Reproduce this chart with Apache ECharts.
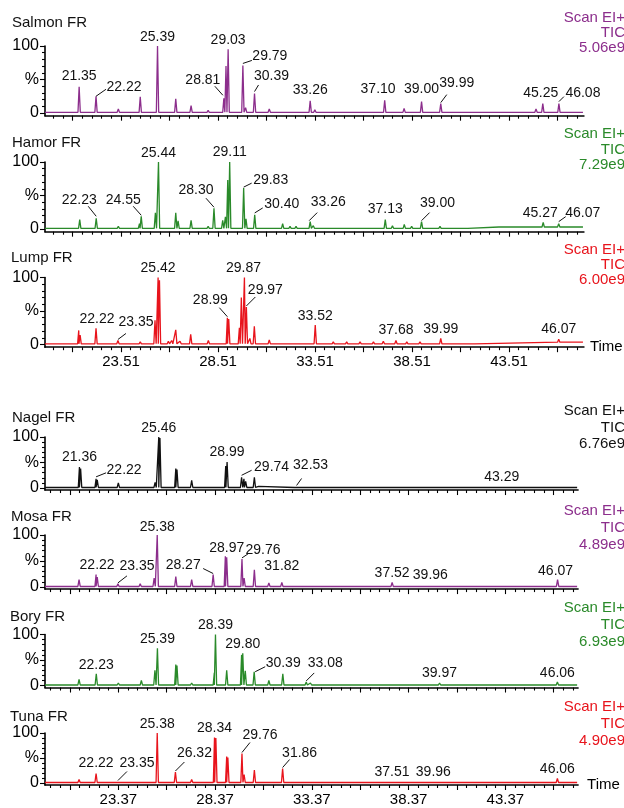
<!DOCTYPE html>
<html><head><meta charset="utf-8">
<script src="https://cdn.jsdelivr.net/npm/echarts@6/dist/echarts.min.js"></script>
<style>html,body{margin:0;padding:0;background:#fff}#c{width:624px;height:808px}</style>
</head><body><div id="c"></div>
<script>
// ---------- values ----------
const samples = ['Salmon FR','Hamor FR','Lump FR','Nagel FR','Mosa FR','Bory FR','Tuna FR'];
const ticScales = ['5.06e9','7.29e9','6.00e9','6.76e9','4.89e9','6.93e9','4.90e9'];
const topMajorTicks = [21.01,23.51,26.01,28.51,31.01,33.51,36.01,38.51,41.01,43.51,46.01];
const topTickLabels = [23.51,28.51,33.51,38.51,43.51];
const bottomMajorTicks = [20.87,23.37,25.87,28.37,30.87,33.37,35.87,38.37,40.87,43.37,45.87];
const bottomTickLabels = [23.37,28.37,33.37,38.37,43.37];
const yTickValues = [0,50,100];
const yTickLabels = ['0','%','100'];
const yMinorValues = [10,20,30,40,60,70,80,90];

const salmonPeaks = [[20.02,3],[21.35,39],[22.22,25],[23.37,6],[24.50,24],[25.39,100],[26.33,21],[27.12,11],[28.00,4],[28.81,22],[28.92,70],[29.03,95],[29.79,71],[29.93,8],[30.39,29],[31.15,6],[33.26,18],[33.50,5],[34.45,3],[34.80,3],[37.10,19],[37.46,3],[38.10,7],[39.00,17],[39.99,14],[43.05,3],[44.90,6],[45.25,14],[46.08,14]];
const salmonLabels = ['21.35','22.22','25.39','28.81','29.03','29.79','30.39','33.26','37.10','39.00','39.99','45.25','46.08'];
const salmonBaseline = [[19.5,1]];

const hamorPeaks = [[20.02,3],[21.38,14],[21.72,2],[22.23,16],[23.37,4],[24.46,8],[24.55,19],[25.28,24],[25.44,100],[26.33,24],[26.45,12],[27.12,13],[28.00,4],[28.30,31],[28.75,13],[28.89,18],[29.01,73],[29.11,100],[29.83,61],[29.95,15],[30.40,21],[31.15,3],[31.84,8],[32.22,4],[32.53,4],[33.26,11],[33.42,5],[33.80,3],[35.23,2],[36.26,2],[37.13,14],[37.50,5],[37.80,3],[38.11,7],[38.49,4],[39.00,11],[39.35,3],[39.95,4],[43.05,3],[45.27,10],[46.07,8]];
const hamorLabels = ['22.23','24.55','25.44','28.30','29.11','29.83','30.40','33.26','37.13','39.00','45.27','46.07'];
const hamorBaseline = [[19.5,1],[41.40,3]];

const lumpPeaks = [[20.02,2],[21.33,21],[21.40,14],[22.22,24],[23.35,6],[24.50,4],[25.26,36],[25.42,100],[25.49,96],[25.95,5],[26.12,6],[26.33,22],[26.55,5],[27.10,15],[28.01,6],[28.99,40],[29.06,38],[29.61,25],[29.71,70],[29.87,100],[29.97,56],[30.15,9],[30.38,27],[31.15,7],[33.52,29],[34.45,4],[35.14,4],[35.83,4],[36.52,4],[37.03,5],[37.68,6],[38.24,4],[38.92,4],[39.99,9],[46.07,8]];
const lumpLabels = ['22.22','23.35','25.42','28.99','29.87','29.97','33.52','37.68','39.99','46.07'];
const lumpBaseline = [[19.5,1],[41.75,3.5]];

const nagelPeaks = [[21.36,41],[21.42,38],[22.22,18],[22.28,16],[22.42,3],[23.37,10],[25.27,11],[25.46,100],[25.52,98],[26.34,38],[26.40,36],[27.16,15],[28.92,43],[28.99,51],[29.74,21],[29.86,18],[29.95,13],[30.40,21],[30.62,3],[32.53,3],[43.29,3]];
const nagelLabels = ['21.36','22.22','25.46','28.99','29.74','32.53','43.29'];
const nagelBaseline = [[19.5,1]];

const mosaPeaks = [[21.34,14],[22.22,24],[22.28,19],[23.35,6],[24.50,6],[25.22,17],[25.38,100],[26.34,20],[27.16,14],[28.00,4],[28.27,24],[28.90,59],[28.97,57],[29.76,54],[29.87,17],[30.40,33],[31.15,8],[31.82,9],[32.22,4],[32.55,4],[33.00,4],[33.30,4],[33.70,4],[34.10,3],[34.60,3],[36.00,3],[36.60,4],[37.10,4],[37.52,9],[38.00,3],[38.60,3],[39.10,4],[39.50,4],[39.96,4],[40.30,3],[42.40,3],[43.00,4],[43.50,3],[44.60,3],[45.30,4],[46.07,14],[46.50,3]];
const mosaLabels = ['22.22','23.35','25.38','28.27','28.97','29.76','31.82','37.52','39.96','46.07'];
const mosaBaseline = [[19.5,1]];

const boryPeaks = [[21.34,12],[22.23,23],[23.37,5],[24.56,10],[25.26,30],[25.39,73],[26.34,41],[26.40,39],[27.16,5],[28.33,25],[28.39,100],[28.97,30],[29.74,60],[29.80,63],[29.93,29],[30.39,27],[31.15,10],[31.87,23],[32.25,4],[32.55,4],[33.08,7],[33.30,5],[33.55,4],[35.70,3],[36.50,4],[37.00,4],[37.60,3],[38.20,4],[39.97,5],[43.00,4],[43.40,4],[44.80,4],[45.40,4],[46.06,7],[46.40,3]];
const boryLabels = ['22.23','25.39','28.39','29.80','30.39','33.08','39.97','46.06'];
const boryBaseline = [[19.5,1]];

const tunaPeaks = [[21.34,7],[22.22,19],[23.35,3],[24.50,2],[25.38,100],[26.32,22],[27.16,7],[28.34,91],[28.41,90],[28.97,53],[29.03,51],[29.76,59],[29.87,17],[30.40,26],[31.15,2],[31.86,29],[34.50,2],[36.00,2],[37.51,3],[39.96,3],[42.00,2],[43.50,2],[45.00,2],[46.06,9]];
const tunaLabels = ['22.22','23.35','25.38','26.32','28.34','29.76','31.86','37.51','39.96','46.06'];
const tunaBaseline = [[19.5,1]];

// ---------- label layout (pixel offsets from peak top: [dx,dy, leader x1,y1,x2,y2]) ----------
const salmonLayout = [[0,-11],[28,-9,0,0,10,-7],[0,-9],[-21,-18,-1,-3,-9,-12],[0,-9.5],[27,-9,0,-2,9,-5],[17,-17.6,0,-2,4,-8.6],[0,-11],[-6.6,-11],[0,-12.6],[16,-20.6,0,-1,6,-9],[-2,-10.6],[24,-10.6,0,-2,5,-7]];
const hamorLayout = [[-17,-18,0,-2,-8,-12],[-18,-16,0,-1,-8,-10],[0,-9],[-18,-18,0,-1,-8,-10],[0,-10],[27,-8,0,-1,8,-5],[27,-11,0,-2,8,-7],[18,-19.6,-1,-1,7,-9],[0,-10.6],[16,-18.6,0,-1,8,-9],[-3,-9.3],[24,-10.6,0,-2,7,-7]];
const lumpLayout = [[1,-9],[18,-18.5,0,-1,8,-7],[0,-9.5],[-17,-17.7,0,-1,-8,-10],[-1,-9.5],[19,-17,0,-1,9,-10],[0,-9],[0,-10.5],[0,-9.5],[0,-10]];
const nagelLayout = [[0,-10],[28,-9,0,-2,10,-6],[0,-9],[0,-10],[30,-10,0,-2,10,-7],[15,-21,1,-1,6,-8],[-2,-9]];
const mosaLayout = [[1,-9],[19,-18,0,-1,9,-8],[0,-8],[-30,-9,0,-1,-10,-6],[0,-9],[21,-8.5,0,-1,6,-5],[0,-16],[0,-9.5],[-9,-10],[-2,-9]];
const boryLayout = [[0,-9],[0,-9],[0,-9.5],[0,-9.5],[29,-9,1,0,11,-5],[19,-19,0,-1,8,-9],[0,-10],[0,-9]];
const tunaLayout = [[0,-10],[19,-18.5,0,-1,9,-10],[0,-9],[19,-19,0,-1,9,-10],[0,-9],[18,-18,0,-1,8,-11],[17,-15,0,-1,7,-9],[0,-9.5],[-6,-9.5],[0,-9]];

// ---------- styling ----------
const PURPLE = '#8c2e8c', GREEN = '#2a8a2a', RED = '#e8141c', BLACK = '#111111';
const FONT = '"Liberation Sans", Arial, sans-serif';
const HW = 0.06;

const topGroup = {xmin:19.59, xmax:47.37, ppm:19.4, majors:topMajorTicks, labels:topTickLabels, nameGap:6};
const bottomGroup = {xmin:19.58, xmax:47.13, ppm:19.35, majors:bottomMajorTicks, labels:bottomTickLabels, nameGap:9};

const panels = [
  {peaks:salmonPeaks, labels:salmonLabels, layout:salmonLayout, base:salmonBaseline, color:PURPLE, g:topGroup, top:46, h:67, axisLabels:false, titleY:23, titleX:12, rightTop:10.5, lh:15},
  {peaks:hamorPeaks, labels:hamorLabels, layout:hamorLayout, base:hamorBaseline, color:GREEN, g:topGroup, top:162, h:67, axisLabels:false, titleY:143, titleX:12, rightTop:126.5, lh:15.5},
  {peaks:lumpPeaks, labels:lumpLabels, layout:lumpLayout, base:lumpBaseline, color:RED, g:topGroup, top:277.5, h:67, axisLabels:true, titleY:258, titleX:11, rightTop:242.5, lh:15},
  {peaks:nagelPeaks, labels:nagelLabels, layout:nagelLayout, base:nagelBaseline, color:BLACK, g:bottomGroup, top:437, h:51, axisLabels:false, titleY:418, titleX:12, rightTop:403, lh:16.5},
  {peaks:mosaPeaks, labels:mosaLabels, layout:mosaLayout, base:mosaBaseline, color:PURPLE, g:bottomGroup, top:535, h:52, axisLabels:false, titleY:517, titleX:11, rightTop:502, lh:17},
  {peaks:boryPeaks, labels:boryLabels, layout:boryLayout, base:boryBaseline, color:GREEN, g:bottomGroup, top:634.5, h:51, axisLabels:false, titleY:617, titleX:10, rightTop:599, lh:17},
  {peaks:tunaPeaks, labels:tunaLabels, layout:tunaLayout, base:tunaBaseline, color:RED, g:bottomGroup, top:733, h:50, axisLabels:true, titleY:717, titleX:10, rightTop:698, lh:17}
];

function minorTicks(majors, xmin, xmax) {
  const out = [];
  const start = majors[0] - 2.5;
  for (let i = 0; ; i++) {
    const v = +(start + i * 0.5).toFixed(2);
    if (v > xmax) break;
    if (i % 5 === 0 || v < xmin) continue;
    out.push(v);
  }
  return out;
}

function buildTrace(peaks, steps, xmin, xmax) {
  const baseAt = t => { let b = steps[0][1]; for (const s of steps) if (t >= s[0]) b = s[1]; return b; };
  const pts = [[xmin, baseAt(xmin)], [xmax - 0.05, baseAt(xmax)]];
  for (let k = 1; k < steps.length; k++) {
    pts.push([steps[k][0] - 0.01, steps[k-1][1]], [steps[k][0], steps[k][1]]);
  }
  peaks.forEach(([t, h]) => { const b = baseAt(t); pts.push([t - HW, b], [t, h], [t + HW, b]); });
  pts.sort((a, b) => a[0] - b[0]);
  return pts;
}

const grids = [], xAxes = [], yAxes = [], series = [], graphic = [];
panels.forEach((P, i) => {
  const G = P.g;
  const width = (G.xmax - G.xmin) * G.ppm;
  grids.push({left:45, top:P.top, width:width, height:P.h * 1.04});
  const tickStyle = {color:'#000', width:1.1};
  xAxes.push({
    type:'value', gridIndex:i, min:G.xmin, max:G.xmax, position:'bottom',
    axisLine:{show:true, onZero:false, lineStyle:{color:'#000', width:1.6}},
    axisTick:{show:true, customValues:G.majors, length:5, lineStyle:tickStyle},
    axisLabel:{show:P.axisLabels, customValues:G.labels, formatter:v => v.toFixed(2), fontSize:15, color:'#000', fontFamily:FONT, margin:7},
    splitLine:{show:false},
    name:P.axisLabels ? 'Time' : '', nameLocation:'end', nameGap:G.nameGap,
    nameTextStyle:{fontSize:15, color:'#000', fontFamily:FONT, verticalAlign:'middle'}
  });
  xAxes.push({
    type:'value', gridIndex:i, min:G.xmin, max:G.xmax, position:'bottom',
    axisLine:{show:false, onZero:false},
    axisTick:{show:true, customValues:minorTicks(G.majors, G.xmin, G.xmax), length:3, lineStyle:tickStyle},
    axisLabel:{show:false}, splitLine:{show:false}
  });
  yAxes.push({
    type:'value', gridIndex:i, min:-4, max:100, position:'left',
    axisLine:{show:true, onZero:false, lineStyle:{color:'#000', width:1.6}},
    axisTick:{show:true, customValues:yTickValues, length:5, lineStyle:tickStyle},
    axisLabel:{show:true, customValues:yTickValues, formatter:v => yTickLabels[yTickValues.indexOf(v)], fontSize:16, color:'#000', fontFamily:FONT, margin:6},
    splitLine:{show:false}
  });
  yAxes.push({
    type:'value', gridIndex:i, min:-4, max:100, position:'left',
    axisLine:{show:false, onZero:false},
    axisTick:{show:true, customValues:yMinorValues, length:3, lineStyle:tickStyle},
    axisLabel:{show:false}, splitLine:{show:false}
  });
  series.push({
    type:'line', xAxisIndex:2*i, yAxisIndex:2*i, data:buildTrace(P.peaks, P.base, G.xmin, G.xmax),
    showSymbol:false, symbol:'none', clip:false, lineStyle:{color:P.color, width:1.3}, silent:true, z:3
  });
  const labelData = P.labels.map((s, k) => {
    const t = parseFloat(s);
    const pk = P.peaks.find(p => Math.abs(p[0] - t) < 1e-9);
    return [t, pk[1], k];
  });
  series.push({
    type:'custom', xAxisIndex:2*i, yAxisIndex:2*i, data:labelData, clip:false, silent:true, z:5,
    renderItem:(params, api) => {
      const p = api.coord([api.value(0), api.value(1)]);
      const k = api.value(2);
      const L = P.layout[k];
      const children = [{
        type:'text', x:p[0] + L[0], y:p[1] + L[1],
        style:{text:P.labels[k], fill:'#111', font:'14px ' + FONT, align:'center', verticalAlign:'middle'}
      }];
      if (L.length > 2) {
        children.push({type:'line', shape:{x1:p[0]+L[2], y1:p[1]+L[3], x2:p[0]+L[4], y2:p[1]+L[5]}, style:{stroke:'#111', lineWidth:1}});
      }
      return {type:'group', children};
    }
  });
  graphic.push({type:'text', x:P.titleX, y:P.titleY, style:{text:samples[i], fill:'#111', font:'15px ' + FONT, align:'left', verticalAlign:'middle'}});
  graphic.push({type:'text', x:625, y:P.rightTop, style:{text:'Scan EI+\nTIC\n' + ticScales[i], fill:P.color === BLACK ? '#111' : P.color, font:'15px ' + FONT, align:'right', verticalAlign:'top', lineHeight:P.lh}});
});

const chart = echarts.init(document.getElementById('c'));
chart.setOption({
  animation:false, backgroundColor:'#fff',
  grid:grids, xAxis:xAxes, yAxis:yAxes, series:series, graphic:graphic
});
</script></body></html>
